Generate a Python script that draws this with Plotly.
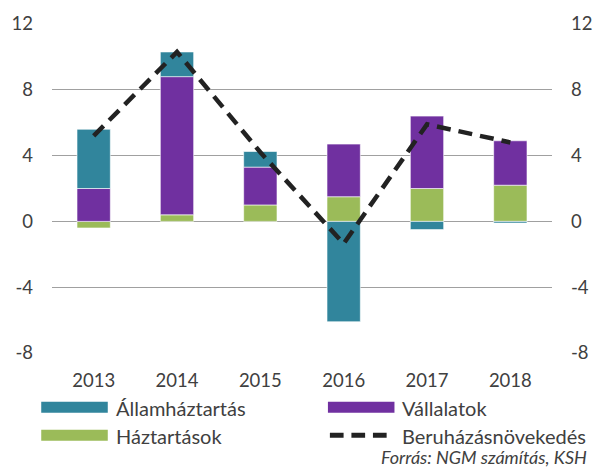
import plotly.graph_objects as go

years = ['2013', '2014', '2015', '2016', '2017', '2018']
allamhaztartas = [3.6, 1.5, 0.95, -6.1, -0.5, -0.1]
vallalatok = [2.0, 8.4, 2.3, 3.2, 4.4, 2.7]
haztartasok = [-0.4, 0.4, 1.0, 1.5, 2.0, 2.2]
beruhazas = [5.2, 10.3, 4.2, -1.35, 5.9, 4.8]

y_ticks = [-8, -4, 0, 4, 8, 12]
y_labels = ['-8', '-4', '0', '4', '8', '12']

TEAL = '#31859C'
PURPLE = '#7030A0'
GREEN = '#9BBB59'
TXT = '#404040'
FONT = 'Lato, Liberation Sans, sans-serif'

fig = go.Figure()

# stacked bars (relative mode stacks negatives downwards)
for name, vals, col in [('Háztartások', haztartasok, GREEN),
                        ('Vállalatok', vallalatok, PURPLE),
                        ('Államháztartás', allamhaztartas, TEAL)]:
    fig.add_trace(go.Bar(x=years, y=vals, name=name, marker=dict(color=col, line=dict(color='white', width=0.6)),
                         width=0.4, showlegend=False))

fig.add_trace(go.Scatter(x=years, y=beruhazas, mode='lines', name='Beruházásnövekedés',
                         line=dict(color='#222222', width=4.5, dash='14px,8px'), showlegend=False))

# invisible trace just to get the right-hand axis
fig.add_trace(go.Scatter(x=years, y=beruhazas, yaxis='y2', mode='lines',
                         line=dict(width=0), hoverinfo='skip', showlegend=False))

fig.update_layout(
    width=604, height=468,
    margin=dict(l=51, r=42, t=23, b=115),
    barmode='relative',
    plot_bgcolor='white', paper_bgcolor='white',
    font=dict(family=FONT, size=18.5, color=TXT),
    xaxis=dict(showgrid=False, showline=False, ticks='', ticklabelstandoff=14),
    yaxis=dict(range=[-8, 12], tickvals=y_ticks, ticktext=y_labels, showgrid=True, gridcolor='#A0A0A0',
               gridwidth=1.3, zeroline=True, zerolinecolor='#A0A0A0', zerolinewidth=1.3, showline=False,
               ticklabelstandoff=18),
    yaxis2=dict(range=[-8, 12], tickvals=y_ticks, ticktext=y_labels, overlaying='y', side='right',
                showgrid=False, zeroline=False, showline=False, ticklabelstandoff=18),
)

# legend drawn by hand to get the wide swatches
W, H, X0, Y1 = 511, 330, 51, 353
px = lambda v: (v - X0) / W
py = lambda v: (Y1 - v) / H

legend_items = [
    ('rect', TEAL, 40, 402, 'Államháztartás'),
    ('rect', PURPLE, 333, 402, 'Vállalatok'),
    ('rect', GREEN, 40, 430, 'Háztartások'),
    ('dash', '#222222', 333, 430, 'Beruházásnövekedés'),
]
for kind, col, x, y, label in legend_items:
    if kind == 'rect':
        fig.add_shape(type='rect', xref='paper', yref='paper', x0=px(x), x1=px(x + 68),
                      y0=py(y), y1=py(y + 11), fillcolor=col, line=dict(width=0))
    else:
        for k in range(3):
            fig.add_shape(type='line', xref='paper', yref='paper',
                          x0=px(x + 2 + k * 22), x1=px(x + 16 + k * 22), y0=py(y + 5.5), y1=py(y + 5.5),
                          line=dict(color=col, width=5))
    fig.add_annotation(text=label, xref='paper', yref='paper', x=px(x + 74), y=py(y + 6),
                       xanchor='left', yanchor='middle', showarrow=False, font=dict(size=20, color=TXT))

fig.add_annotation(text='<i>Forrás: NGM számítás, KSH</i>', xref='paper', yref='paper',
                   x=px(600), y=py(457), xanchor='right', yanchor='middle', showarrow=False,
                   font=dict(size=18, color=TXT))

# page body has a default 8px margin; remove it so the figure sits at 0,0
fig.write_html('out.html', config={'displayModeBar': False},
               post_script="document.body.style.margin='0';")
